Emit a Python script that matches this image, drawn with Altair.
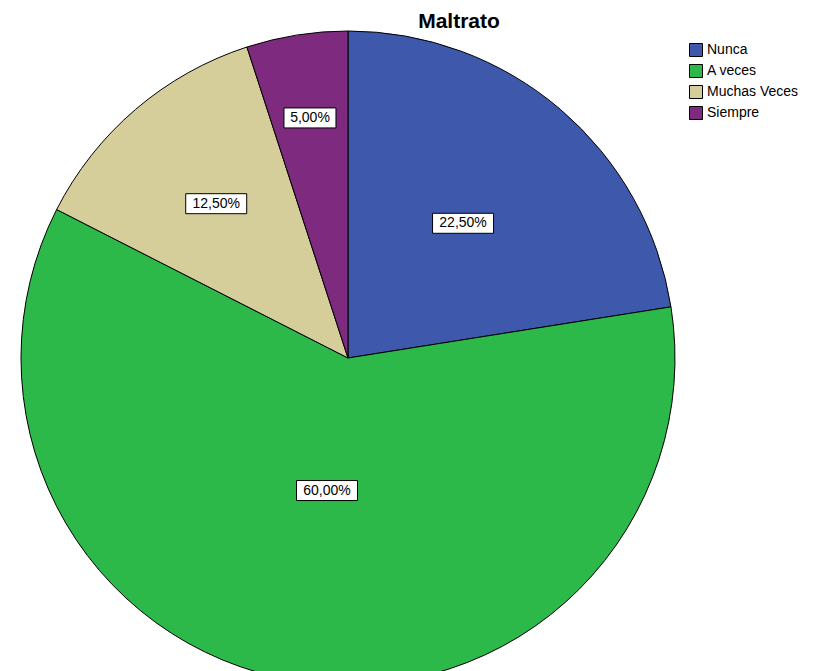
import altair as alt
import pandas as pd

categories = ["Nunca", "A veces", "Muchas Veces", "Siempre"]
percents = [22.5, 60.0, 12.5, 5.0]
labels = ["22,50%", "60,00%", "12,50%", "5,00%"]
colors = ["#3E58AC", "#2DB84A", "#D5CE9A", "#7D2A7F"]

df = pd.DataFrame({
    "cat": categories,
    "pct": percents,
    "label": labels,
    "order": list(range(len(categories))),
})

CX, CY, R = 340, 350, 327
FONT = "Liberation Sans"

base = alt.Chart(df)

pie = base.mark_arc(stroke="black", strokeWidth=1, radius=R).encode(
    theta=alt.Theta("pct:Q", stack=True),
    color=alt.Color(
        "cat:N",
        scale=alt.Scale(domain=categories, range=colors),
        sort=categories,
        legend=alt.Legend(
            title=None,
            orient="none",
            legendX=681,
            legendY=35,
            symbolType="square",
            symbolSize=169,
            symbolStrokeColor="black",
            symbolStrokeWidth=1,
            symbolOpacity=1,
            labelFont=FONT,
            labelFontSize=14,
            labelColor="black",
            labelOffset=4,
            rowPadding=3,
            padding=0,
        ),
    ),
    order=alt.Order("order:Q"),
    x=alt.value(CX),
    y=alt.value(CY),
)

lab = base.transform_window(
    cum="sum(pct)", sort=[{"field": "order"}]
).transform_calculate(
    mid="(datum.cum - datum.pct/2)/100*2*PI",
    frac="0.959 - 0.134*log(datum.pct)",
).transform_calculate(
    lx=f"{CX} + {R}*datum.frac*sin(datum.mid)",
    ly=f"{CY} - {R}*datum.frac*cos(datum.mid)",
    w="9*length(datum.label) + 7",
).transform_calculate(
    x1="datum.lx - datum.w/2",
    x2="datum.lx + datum.w/2",
    y1="datum.ly - 10",
    y2="datum.ly + 10",
)

boxes = lab.mark_rect(fill="white", stroke="black", strokeWidth=1).encode(
    x=alt.X("x1:Q", scale=None),
    x2="x2:Q",
    y=alt.Y("y1:Q", scale=None),
    y2="y2:Q",
)

texts = lab.mark_text(font=FONT, fontSize=14, color="black", baseline="middle", align="center").encode(
    x=alt.X("lx:Q", scale=None),
    y=alt.Y("ly:Q", scale=None),
    text="label:N",
)

title = alt.Chart(pd.DataFrame({"t": ["Maltrato"]})).mark_text(
    font=FONT, fontSize=21, fontWeight="bold", color="black", align="center", baseline="middle"
).encode(x=alt.value(451), y=alt.value(14), text="t:N")

chart = alt.layer(pie, boxes, texts, title).properties(
    width=800, height=663, autosize=alt.AutoSizeParams(type="none"), padding=0,
    background="white",
).configure_view(strokeWidth=0, stroke="transparent")

chart.save("out.html", embed_options={"renderer": "svg", "actions": False})
